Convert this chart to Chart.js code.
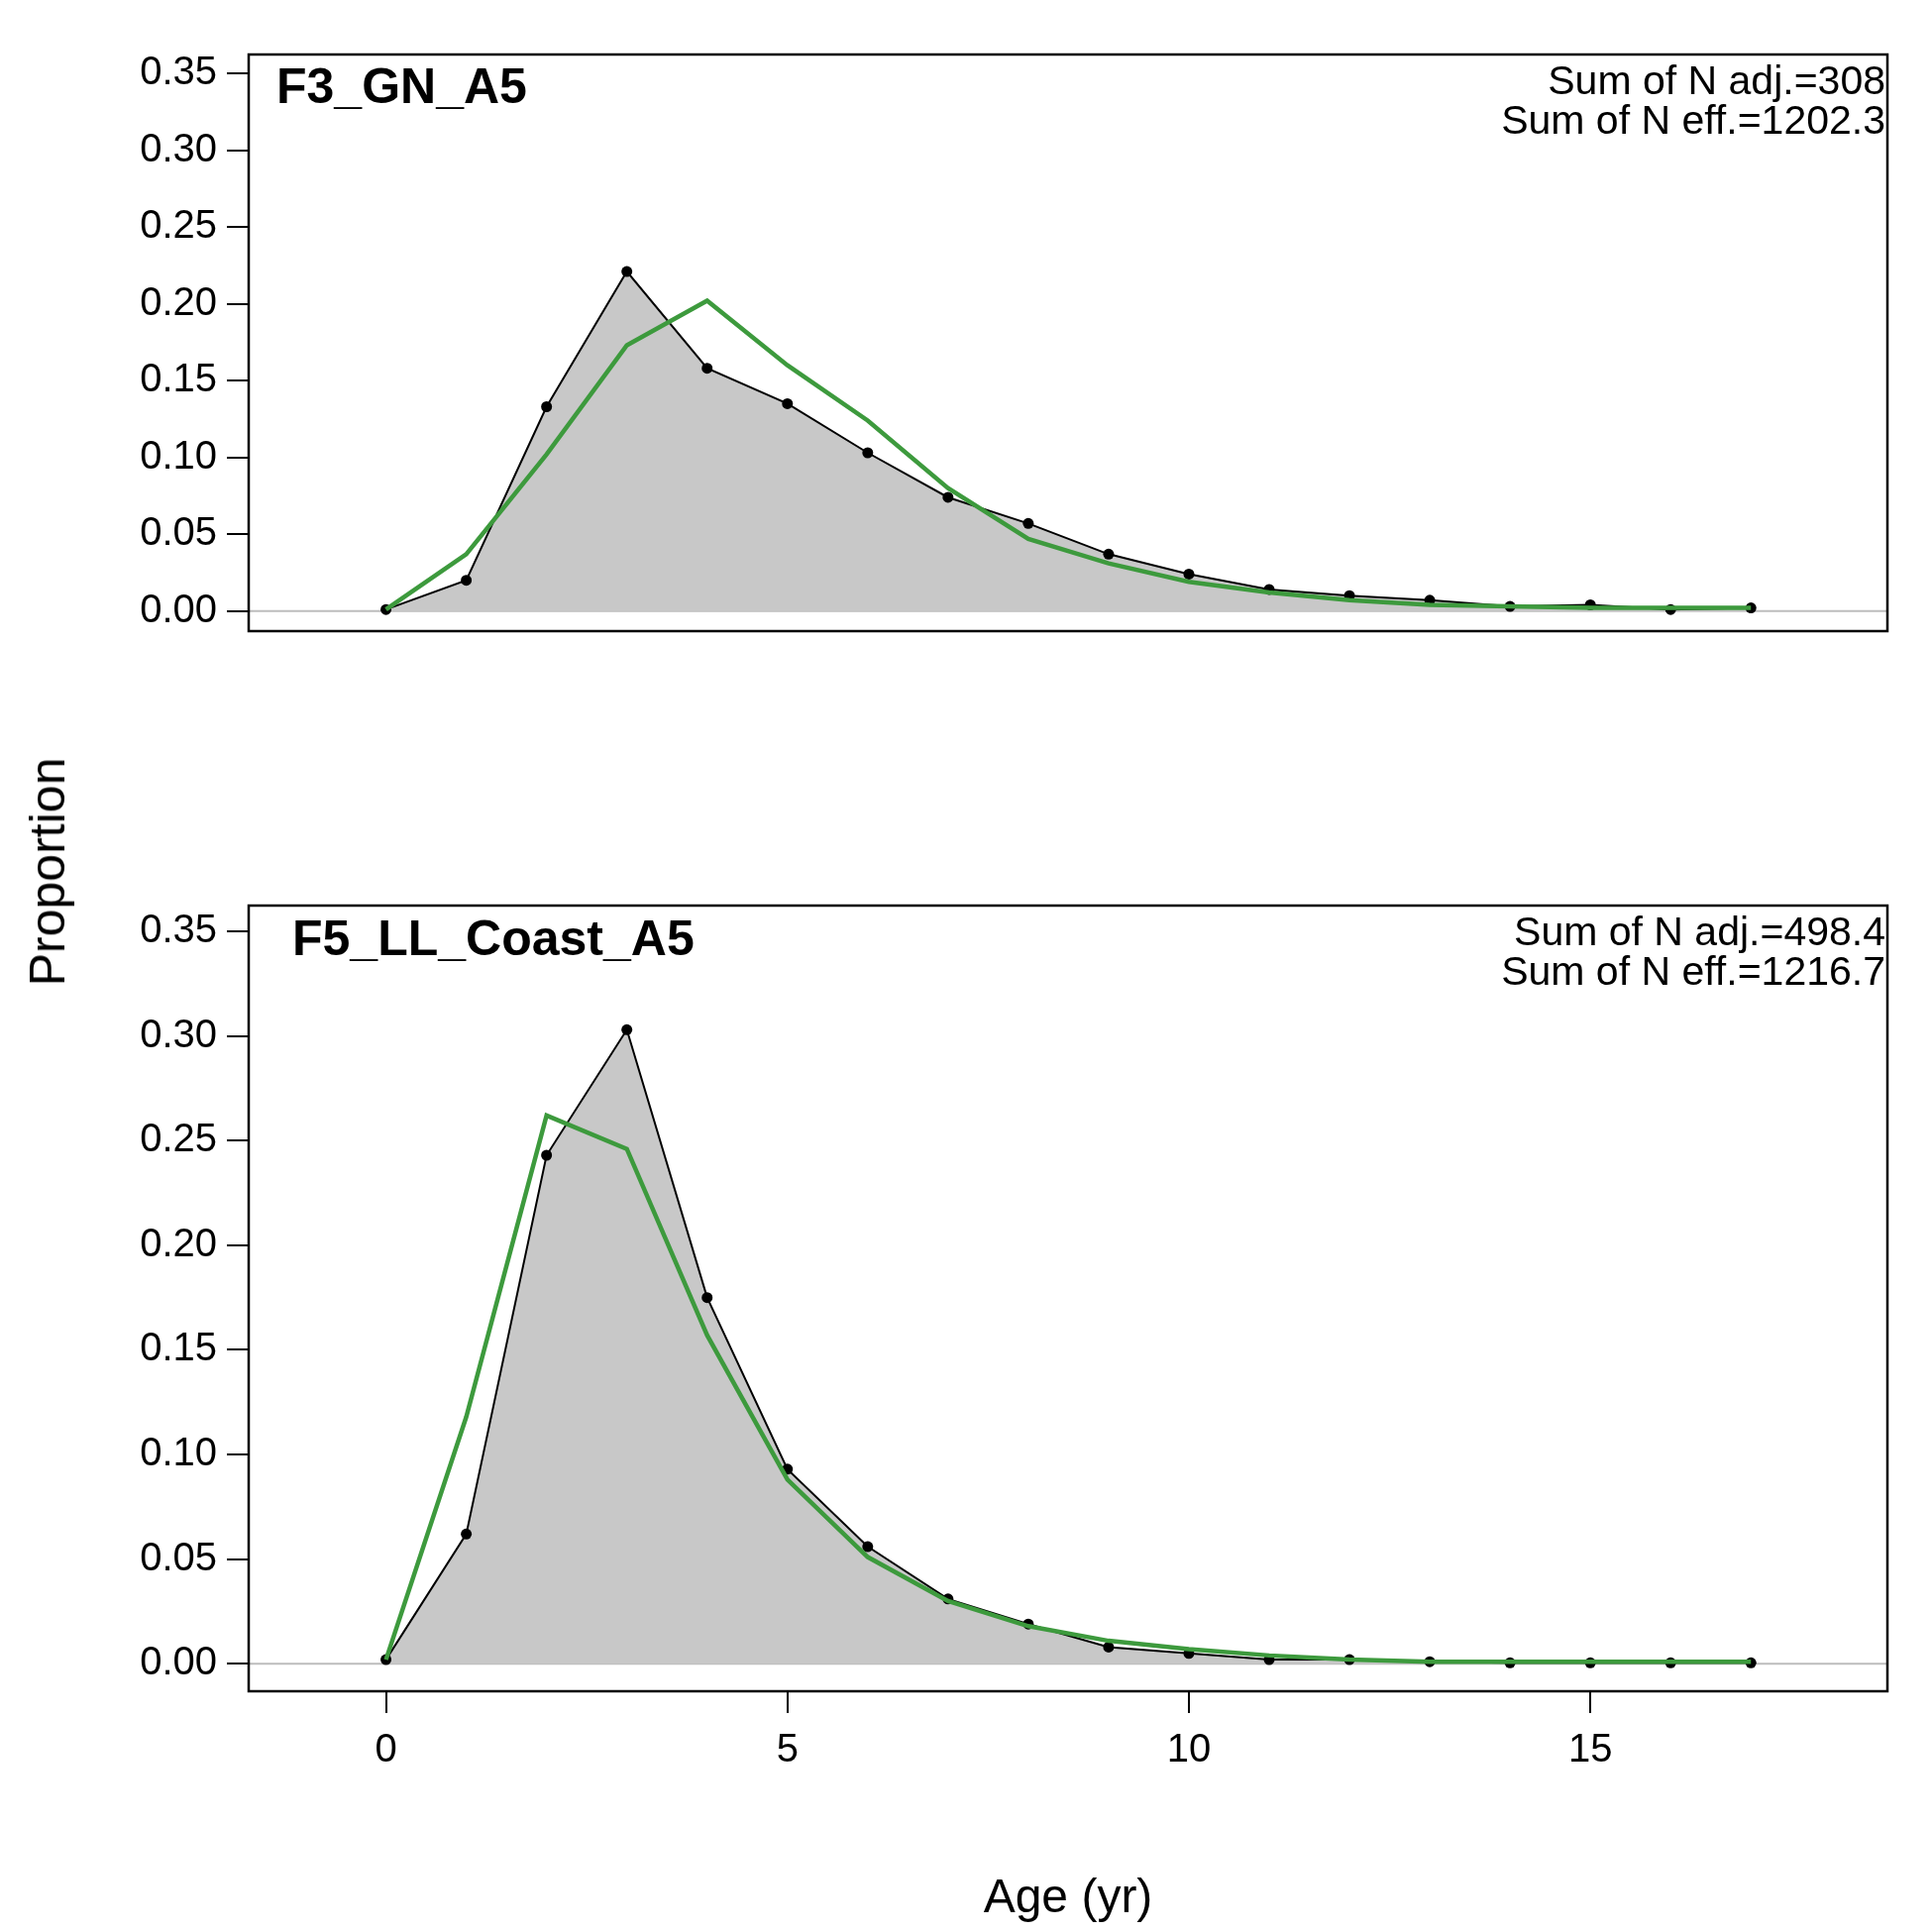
<!DOCTYPE html>
<html><head><meta charset="utf-8">
<script src="https://cdn.jsdelivr.net/npm/chart.js@4/dist/chart.umd.min.js"></script>
<style>
body{margin:0;background:#fff;width:1950px;height:1950px;position:relative;overflow:hidden;font-family:"Liberation Sans",Arial,sans-serif}
#c1{position:absolute;left:0;top:0}
#c2{position:absolute;left:0;top:880px}
#ylab{position:absolute;left:48px;top:880px;transform:translate(-50%,-50%) rotate(-90deg);font-size:50px;white-space:nowrap}
</style></head><body>
<canvas id="c1" width="1950" height="880" style="width:1950px;height:880px"></canvas>
<canvas id="c2" width="1950" height="1070" style="width:1950px;height:1070px"></canvas>
<div id="ylab">Proportion</div>
<script>
const ages=[0,1,2,3,4,5,6,7,8,9,10,11,12,13,14,15,16,17];
const yTicks=[0,0.05,0.10,0.15,0.20,0.25,0.30,0.35];
const xTicks=[0,5,10,15];
const topTitle="F3_GN_A5", topNote=["Sum of N adj.=308","Sum of N eff.=1202.3"];
const botTitle="F5_LL_Coast_A5", botNote=["Sum of N adj.=498.4","Sum of N eff.=1216.7"];
const topObs=[0.001,0.020,0.133,0.221,0.158,0.135,0.103,0.074,0.057,0.037,0.024,0.014,0.010,0.007,0.003,0.004,0.001,0.002];
const topExp=[0.001,0.037,0.102,0.173,0.202,0.160,0.124,0.080,0.047,0.031,0.019,0.012,0.007,0.004,0.003,0.002,0.002,0.002];
const botObs=[0.002,0.062,0.243,0.303,0.175,0.093,0.056,0.031,0.019,0.008,0.005,0.002,0.002,0.001,0.0005,0.0005,0.0005,0.0005];
const botExp=[0.002,0.118,0.262,0.246,0.157,0.088,0.051,0.030,0.018,0.011,0.007,0.004,0.002,0.001,0.001,0.001,0.001,0.001];
const F='"Liberation Sans", Arial, sans-serif';
function make(id,obs,exp,title,notes,isBottom){
  const deco={id:'deco',
    beforeDatasetsDraw(ch){const {ctx,chartArea:a,scales:{y}}=ch;const y0=y.getPixelForValue(0);
      ctx.save();ctx.strokeStyle='#bdbdbd';ctx.lineWidth=2;ctx.beginPath();ctx.moveTo(a.left,y0);ctx.lineTo(a.right,y0);ctx.stroke();ctx.restore();},
    afterDraw(ch){const {ctx,chartArea:a}=ch;ctx.save();ctx.strokeStyle='#000';ctx.lineWidth=2.5;
      ctx.strokeRect(a.left,a.top,a.right-a.left,a.bottom-a.top);
      ctx.fillStyle='#000';ctx.font='bold 50px '+F;ctx.textAlign='left';ctx.textBaseline='alphabetic';
      ctx.fillText(title,a.left+(isBottom?44:28),a.top+(isBottom?50:49));
      ctx.font='41px '+F;ctx.textAlign='right';
      ctx.fillText(notes[0],a.right-2,a.top+40);
      ctx.fillText(notes[1],a.right-2,a.top+80);
      ctx.restore();}};
  return new Chart(document.getElementById(id),{type:'line',
    data:{labels:ages,datasets:[
      {data:exp.map((v,i)=>({x:ages[i],y:v})),borderColor:'#3d9a3d',borderWidth:4.5,pointRadius:0,fill:false,tension:0,order:0},
      {data:obs.map((v,i)=>({x:ages[i],y:v})),borderColor:'#000',borderWidth:2,backgroundColor:'#c8c8c8',fill:'origin',pointRadius:5.5,pointBackgroundColor:'#000',pointBorderWidth:0,tension:0,order:1}
    ]},
    options:{responsive:false,devicePixelRatio:1,animation:false,
      layout:{padding:{left:0,right:45,top:isBottom?0:55,bottom:0}},
      plugins:{legend:{display:false},tooltip:{enabled:false}},
      scales:{
        x:{type:'linear',min:-1.71,max:18.7,display:isBottom,
          afterBuildTicks(s){s.ticks=xTicks.map(v=>({value:v}));},
          afterFit(s){s.height=243;},
          grid:{drawOnChartArea:false,drawTicks:true,tickLength:22,color:'#000',lineWidth:2},
          border:{display:false},
          ticks:{font:{size:40,family:F},color:'#000',padding:14},
          title:{display:true,text:'Age (yr)',font:{size:48,family:F},color:'#000',padding:{top:38}}},
        y:{min:-0.0131,max:0.3623,
          afterBuildTicks(s){s.ticks=yTicks.map(v=>({value:v}));},
          afterFit(s){s.width=251;},
          grid:{drawOnChartArea:false,drawTicks:true,tickLength:22,color:'#000',lineWidth:2},
          border:{display:false},
          ticks:{font:{size:40,family:F},color:'#000',padding:10,callback:v=>v.toFixed(2)}}
      }},
    plugins:[deco]});
}
make('c1',topObs,topExp,topTitle,topNote,false);
make('c2',botObs,botExp,botTitle,botNote,true);
</script></body></html>
